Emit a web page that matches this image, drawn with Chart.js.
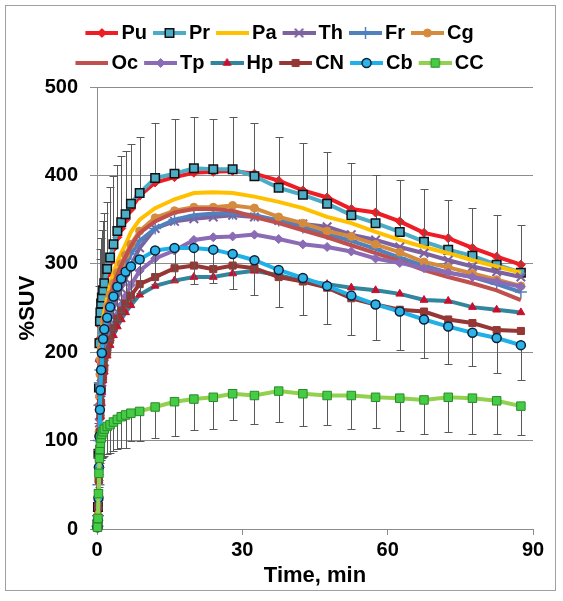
<!DOCTYPE html>
<html>
<head>
<meta charset="utf-8">
<script src="https://cdn.jsdelivr.net/npm/chart.js@4/dist/chart.umd.js"></script>
<style>
  html, body { margin: 0; padding: 0; background: #fff; }
  canvas { display: block; }
</style>
</head>
<body>
<canvas id="chart" width="563" height="601"></canvas>
<script>
// frame mid times, min
const times = [0.1, 0.2, 0.3, 0.4, 0.5, 0.6, 0.7, 0.85, 1.0, 1.25, 1.5, 2.1, 2.7, 3.4, 4.2, 5.0, 5.9, 7.0, 8.8,
  12, 16, 20, 24, 28, 32.5, 37.5, 42.5, 47.5, 52.5, 57.5, 62.5, 67.5, 72.5, 77.5, 82.5, 87.5];

// %SUV per region
const Pu = [4, 20, 70, 140, 190, 215, 230, 243, 252, 262, 270, 288, 302, 318, 330, 340, 350, 362, 377,
  392, 398, 403, 404, 405, 402, 394, 383, 375, 362, 358, 348, 335, 329, 318, 308, 299];
const Pr = [5, 25, 85, 160, 210, 235, 245, 255, 262, 270, 278, 294, 307, 322, 337, 347, 356, 368, 380,
  397, 402, 408, 407, 407, 399, 386, 378, 368, 355, 346, 336, 325, 316, 309, 299, 290];
const Pa = [4, 18, 60, 120, 165, 190, 205, 215, 225, 237, 246, 262, 276, 290, 302, 312, 322, 336, 350,
  363, 373, 380, 381, 380, 376, 370, 363, 353, 346, 336, 327, 319, 312, 304, 297, 290];
const Th = [3, 12, 40, 85, 120, 145, 160, 172, 182, 194, 204, 222, 237, 250, 262, 272, 283, 298, 318,
  340, 348, 351, 353, 355, 353, 349, 345, 342, 333, 327, 319, 312, 304, 297, 291, 285];
const Fr = [3, 15, 50, 100, 140, 165, 180, 192, 200, 212, 222, 238, 252, 266, 278, 289, 299, 311, 326,
  340, 350, 355, 357, 357, 355, 349, 341, 334, 326, 317, 307, 298, 290, 285, 277, 268];
const Cg = [3, 16, 55, 110, 150, 175, 192, 204, 214, 226, 236, 252, 265, 278, 290, 300, 310, 322, 337,
  352, 360, 364, 364, 366, 363, 353, 346, 337, 331, 322, 313, 302, 296, 289, 282, 275];
const Oc = [3, 16, 55, 108, 148, 172, 188, 200, 210, 222, 232, 249, 262, 276, 288, 298, 308, 320, 335,
  348, 358, 362, 362, 360, 353, 346, 338, 330, 321, 312, 303, 293, 285, 278, 270, 259];
const Tp = [2, 10, 32, 70, 100, 125, 140, 152, 162, 175, 185, 204, 217, 230, 242, 253, 263, 276, 292,
  306, 315, 327, 330, 331, 333, 328, 322, 319, 314, 306, 301, 295, 290, 285, 280, 274];
const Hp = [2, 8, 25, 55, 85, 110, 128, 142, 155, 168, 178, 196, 208, 219, 229, 237, 245, 253, 265,
  275, 281, 285, 285, 289, 292, 287, 281, 277, 273, 270, 266, 259, 258, 251, 248, 245];
const CN = [2, 8, 25, 55, 85, 110, 128, 143, 158, 172, 182, 200, 214, 227, 238, 247, 255, 264, 277,
  285, 295, 298, 294, 298, 295, 285, 280, 273, 261, 254, 248, 246, 237, 233, 225, 224];
const Cb = [2, 10, 35, 70, 105, 135, 157, 180, 199, 215, 226, 239, 251, 263, 274, 283, 291, 297, 305,
  315, 318, 318, 316, 311, 304, 293, 284, 275, 264, 254, 246, 237, 229, 222, 216, 208];
const CC = [2, 12, 40, 63, 80, 90, 97, 103, 107, 110, 113, 116, 118, 121, 124, 127, 129, 131, 133,
  138, 144, 147, 149, 153, 151, 156, 153, 151, 151, 149, 148, 146, 149, 148, 145, 139];

// SD (one-sided bars)
const PrErr = [5, 15, 35, 55, 65, 70, 72, 74, 76, 78, 80, 76, 80, 77, 75, 75, 72, 68, 63,
  62, 62, 58, 57, 59, 60, 57, 59, 58, 59, 54, 59, 60, 56, 54, 56, 54];
const CbErr = [2, 5, 10, 15, 20, 25, 28, 30, 32, 34, 35, 36, 37, 38, 38, 38, 38, 38, 38,
  38, 38, 41, 38, 39, 39, 42, 42, 43, 44, 40, 43, 43, 42, 38, 39, 39];
const CCErr = [1, 5, 10, 15, 18, 20, 22, 25, 27, 29, 30, 31, 32, 33, 34, 35, 37, 32, 33,
  35, 39, 35, 36, 30, 32, 35, 36, 33, 38, 35, 37, 39, 39, 40, 37, 33];

const xTicks = [0, 30, 60, 90];
const yTicks = [0, 100, 200, 300, 400, 500];

// line colour, marker style
const styles = [
  { label: 'Pu', data: Pu, color: '#EE1C25', shape: 'rectRot', r: 4.5, fill: '#EE1C25', edge: '#EE1C25', bw: 1 },
  { label: 'Pr', data: Pr, color: '#4BACC6', shape: 'rect', r: 6, fill: '#4BACC6', edge: '#111', bw: 1.5, err: PrErr, dir: 1 },
  { label: 'Pa', data: Pa, color: '#FFC000', shape: null },
  { label: 'Th', data: Th, color: '#7D62A0', shape: 'crossRot', r: 6, fill: '#7D62A0', edge: '#7D62A0', bw: 2 },
  { label: 'Fr', data: Fr, color: '#4F81BD', shape: 'cross', r: 6, fill: '#4F81BD', edge: '#4F81BD', bw: 1.5 },
  { label: 'Cg', data: Cg, color: '#D58B3E', shape: 'circle', r: 4, fill: '#D58B3E', edge: '#D58B3E', bw: 1 },
  { label: 'Oc', data: Oc, color: '#C0504D', shape: null },
  { label: 'Tp', data: Tp, color: '#8B6BB5', shape: 'rectRot', r: 4.5, fill: '#8B6BB5', edge: '#8B6BB5', bw: 1 },
  { label: 'Hp', data: Hp, color: '#31859C', shape: 'triangle', r: 4.5, fill: '#C8102E', edge: '#C8102E', bw: 1 },
  { label: 'CN', data: CN, color: '#953735', shape: 'rect', r: 5, fill: '#953735', edge: '#953735', bw: 1 },
  { label: 'Cb', data: Cb, color: '#1FB0E8', shape: 'circle', r: 4.5, fill: '#2DB3E8', edge: '#0B2239', bw: 1.5, err: CbErr, dir: -1 },
  { label: 'CC', data: CC, color: '#92D050', shape: 'rect', r: 6, fill: '#44CC44', edge: '#2A8A2A', bw: 1, err: CCErr, dir: -1 }
];

const FONT = "'Liberation Sans', Arial, sans-serif";
Chart.defaults.font.family = FONT;
Chart.defaults.color = '#000';

const BOX = 22;      // legend box width
const LINE = 33;     // legend line length

// small line+marker pictures for the legend, line sits right next to the text
function swatch(s) {
  const c = document.createElement('canvas');
  c.width = BOX + 14; c.height = 16;
  const g = c.getContext('2d');
  const x0 = c.width - LINE;
  g.strokeStyle = s.color; g.lineWidth = 4;
  g.beginPath(); g.moveTo(x0, 8); g.lineTo(c.width, 8); g.stroke();
  if (s.shape) {
    g.fillStyle = s.fill; g.strokeStyle = s.edge; g.lineWidth = s.bw;
    const cx = x0 + LINE / 2;
    if (Chart.helpers && Chart.helpers.drawPoint) {
      Chart.helpers.drawPoint(g, { pointStyle: s.shape, radius: s.r, borderWidth: s.bw, rotation: 0 }, cx, 8);
    } else {
      g.beginPath(); g.arc(cx, 8, s.r, 0, Math.PI * 2); g.fill(); g.stroke();
    }
  }
  return c;
}
const swatches = styles.map(swatch);

const datasets = styles.map((s, i) => ({
  label: s.label,
  data: times.map((t, k) => ({ x: t, y: s.data[k] })),
  borderColor: s.color,
  backgroundColor: s.color,
  borderWidth: 4,
  tension: 0,
  fill: false,
  clip: false,
  order: styles.length - i,
  pointStyle: s.shape || 'circle',
  pointRadius: s.shape ? s.r : 0,
  pointBackgroundColor: s.fill,
  pointBorderColor: s.edge,
  pointBorderWidth: s.bw || 0,
  errValues: s.err || null,
  errDir: s.dir || 0
}));

const errorBars = {
  id: 'errorBars',
  beforeDatasetDraw(chart, args) {
    const ds = chart.data.datasets[args.index];
    if (!ds.errValues) return;
    const { ctx } = chart;
    const xs = chart.scales.x, ys = chart.scales.y;
    ctx.save();
    ctx.strokeStyle = '#595959';
    ctx.lineWidth = 1;
    ds.data.forEach((p, k) => {
      const px = Math.round(xs.getPixelForValue(p.x)) + 0.5;
      const y0 = ys.getPixelForValue(p.y);
      const y1 = Math.round(ys.getPixelForValue(p.y + ds.errDir * ds.errValues[k])) + 0.5;
      ctx.beginPath();
      ctx.moveTo(px, y0); ctx.lineTo(px, y1);
      ctx.moveTo(px - 4, y1); ctx.lineTo(px + 4, y1);
      ctx.stroke();
    });
    ctx.restore();
  }
};

const frame = {
  id: 'frame',
  beforeDraw(chart) {
    const { ctx } = chart;
    ctx.save();
    ctx.fillStyle = '#fff';
    ctx.fillRect(0, 0, chart.width, chart.height);
    ctx.restore();
  },
  afterDraw(chart) {
    const { ctx } = chart;
    ctx.save();
    ctx.strokeStyle = '#A0A0A0';
    ctx.lineWidth = 1;
    ctx.strokeRect(5.5, 5.5, 550, 585);
    ctx.restore();
  },
  // centre the legend on the whole picture (like Excel) and lift it a little
  afterLayout(chart) {
    const lg = chart.legend;
    const shift = chart.width / 2 - (lg.left + lg.right) / 2;
    lg.left += shift;
    lg.right += shift;
    lg.top -= 4;
    lg.bottom -= 4;
  }
};

new Chart(document.getElementById('chart'), {
  type: 'line',
  data: { datasets },
  options: {
    responsive: false,
    animation: false,
    devicePixelRatio: 1,
    layout: { padding: { left: 15, right: 30, top: 17, bottom: 12 } },
    plugins: {
      tooltip: { enabled: false },
      legend: {
        position: 'top',
        fullSize: false,
        labels: {
          usePointStyle: true,
          pointStyleWidth: BOX,
          padding: 10,
          color: '#000',
          font: { size: 20, weight: 'bold' },
          generateLabels: chart => chart.data.datasets.map((ds, i) => ({
            text: ds.label,
            pointStyle: swatches[i],
            fillStyle: 'transparent',
            strokeStyle: 'transparent',
            lineWidth: 0,
            hidden: false,
            datasetIndex: i,
            fontColor: '#000'
          }))
        }
      }
    },
    scales: {
      x: {
        type: 'linear',
        min: xTicks[0],
        max: xTicks[xTicks.length - 1],
        afterBuildTicks: s => { s.ticks = xTicks.map(v => ({ value: v })); },
        afterFit: s => { s.height = 60; },
        ticks: { color: '#000', font: { size: 20, weight: 'bold' }, padding: 3, maxRotation: 0, autoSkip: false },
        grid: { drawOnChartArea: false, drawTicks: true, tickLength: 6, color: '#8C8C8C' },
        border: { color: '#8C8C8C' },
        title: { display: true, text: 'Time, min', color: '#000', font: { size: 22, weight: 'bold' }, padding: { top: 0, bottom: 0 } }
      },
      y: {
        min: yTicks[0],
        max: yTicks[yTicks.length - 1],
        afterBuildTicks: s => { s.ticks = yTicks.map(v => ({ value: v })); },
        afterFit: s => { s.width = 82; },
        ticks: { color: '#000', font: { size: 20, weight: 'bold' }, padding: 12 },
        grid: { color: '#8C8C8C', tickLength: 7 },
        border: { color: '#8C8C8C' },
        title: { display: true, text: '%SUV', color: '#000', font: { size: 22, weight: 'bold' }, padding: { top: 0, bottom: 0 } }
      }
    }
  },
  plugins: [errorBars, frame]
});
</script>
</body>
</html>
